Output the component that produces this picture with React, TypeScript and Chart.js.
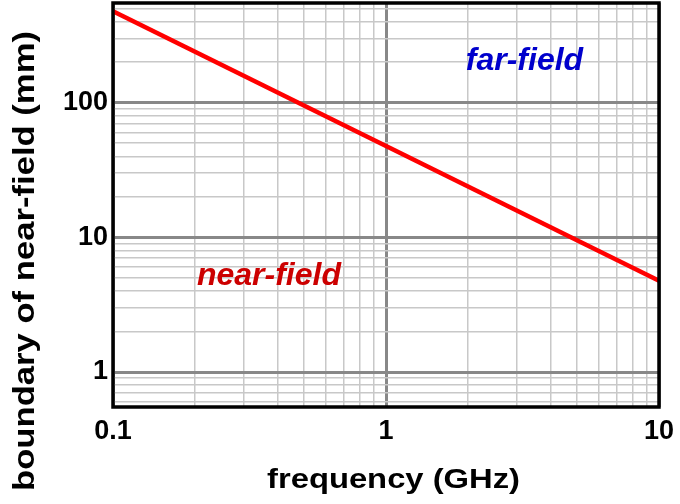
import React, { useEffect, useRef } from 'react';
import { Chart, registerables } from 'chart.js';

Chart.register(...registerables);

// ---- data ----
const frequencyGHz = [0.1, 1, 10];
const boundaryMm = [477, 47.7, 4.77];

const xMajorTicks = [0.1, 1, 10];
const yMajorTicks = [1, 10, 100];
const xGridValues = [
  0.1, 0.2, 0.3, 0.4, 0.5, 0.6, 0.7, 0.8, 0.9,
  1, 2, 3, 4, 5, 6, 7, 8, 9, 10,
];
const yGridValues = [
  0.6, 0.7, 0.8, 0.9,
  1, 2, 3, 4, 5, 6, 7, 8, 9,
  10, 20, 30, 40, 50, 60, 70, 80, 90,
  100, 200, 300, 400, 500,
];

const regionLabels = ['far-field', 'near-field'];
const regionLabelX = [1.96, 0.203];
const regionLabelY = [176, 4.45];
const regionLabelColors = ['#0000cc', '#cc0000'];

const xAxisTitle = 'frequency (GHz)';
const yAxisTitle = 'boundary of near-field (mm)';

const FONT = '"Liberation Sans", Arial, Helvetica, sans-serif';

function drawStretched(
  ctx: CanvasRenderingContext2D,
  text: string,
  x: number,
  y: number,
  font: string,
  targetWidth: number,
  rotation: number
) {
  ctx.save();
  ctx.font = font;
  ctx.fillStyle = '#000000';
  ctx.textAlign = 'center';
  ctx.textBaseline = 'alphabetic';
  ctx.translate(x, y);
  ctx.rotate(rotation);
  const w = ctx.measureText(text).width;
  ctx.scale(targetWidth / w, 1);
  ctx.fillText(text, 0, 0);
  ctx.restore();
}

const decorPlugin = {
  id: 'decor',
  afterDatasetsDraw(chart: any) {
    const { ctx, chartArea, scales } = chart;
    // frame
    ctx.save();
    ctx.strokeStyle = '#000000';
    ctx.lineWidth = 3.5;
    ctx.strokeRect(
      chartArea.left,
      chartArea.top,
      chartArea.right - chartArea.left,
      chartArea.bottom - chartArea.top
    );
    ctx.restore();
    // region labels
    ctx.save();
    ctx.font = `italic bold 32px ${FONT}`;
    ctx.textAlign = 'left';
    ctx.textBaseline = 'alphabetic';
    regionLabels.forEach((t, i) => {
      ctx.fillStyle = regionLabelColors[i];
      ctx.fillText(
        t,
        scales.x.getPixelForValue(regionLabelX[i]),
        scales.y.getPixelForValue(regionLabelY[i])
      );
    });
    ctx.restore();
  },
  afterDraw(chart: any) {
    const { ctx } = chart;
    drawStretched(ctx, xAxisTitle, 393.5, 488, `bold 28px ${FONT}`, 253, 0);
    drawStretched(ctx, yAxisTitle, 34, 261, `bold 30px ${FONT}`, 460, -Math.PI / 2);
  },
};

export default function App() {
  const canvasRef = useRef<HTMLCanvasElement | null>(null);

  useEffect(() => {
    const canvas = canvasRef.current;
    if (!canvas) return;
    const gridColor = (majors: number[]) => (c: any) =>
      c.tick && majors.includes(c.tick.value) ? '#888888' : '#c8c8c8';
    const gridWidth = (majors: number[]) => (c: any) =>
      c.tick && majors.includes(c.tick.value) ? 3 : 1.5;

    const chart = new Chart(canvas, {
      type: 'line',
      data: {
        datasets: [
          {
            data: frequencyGHz.map((f, i) => ({ x: f, y: boundaryMm[i] })),
            borderColor: '#ff0000',
            borderWidth: 4.5,
            pointRadius: 0,
            tension: 0,
            fill: false,
          },
        ],
      },
      options: {
        animation: false,
        responsive: false,
        maintainAspectRatio: false,
        devicePixelRatio: 1,
        layout: { padding: { top: 3, right: 21, left: 0, bottom: 0 } },
        plugins: {
          legend: { display: false },
          tooltip: { enabled: false },
        },
        scales: {
          x: {
            type: 'logarithmic',
            min: 0.1,
            max: 10,
            afterBuildTicks: (s: any) => {
              s.ticks = xGridValues.map((v) => ({ value: v }));
            },
            afterFit: (s: any) => {
              s.height = 97;
              s.paddingLeft = 0;
              s.paddingRight = 0;
            },
            ticks: {
              autoSkip: false,
              maxRotation: 0,
              minRotation: 0,
              padding: 8,
              color: '#000000',
              font: { family: FONT, size: 27, weight: 'bold' },
              callback: (v: any) => (xMajorTicks.includes(Number(v)) ? String(v) : ''),
            },
            grid: {
              color: gridColor(xMajorTicks),
              lineWidth: gridWidth(xMajorTicks),
              drawTicks: false,
            },
            border: { display: false },
          },
          y: {
            type: 'logarithmic',
            min: 0.55,
            max: 550,
            afterBuildTicks: (s: any) => {
              s.ticks = yGridValues.map((v) => ({ value: v }));
            },
            afterFit: (s: any) => {
              s.width = 113;
              s.paddingTop = 0;
              s.paddingBottom = 0;
            },
            ticks: {
              autoSkip: false,
              padding: 5,
              color: '#000000',
              font: { family: FONT, size: 27, weight: 'bold' },
              callback: (v: any) => (yMajorTicks.includes(Number(v)) ? String(v) : ''),
            },
            grid: {
              color: gridColor(yMajorTicks),
              lineWidth: gridWidth(yMajorTicks),
              drawTicks: false,
            },
            border: { display: false },
          },
        },
      } as any,
      plugins: [decorPlugin],
    });
    return () => chart.destroy();
  }, []);

  return (
    <div style={{ position: 'fixed', left: 0, top: 0, width: 680, height: 504, background: '#ffffff' }}>
      <canvas ref={canvasRef} width={680} height={504} style={{ width: 680, height: 504, display: 'block' }} />
    </div>
  );
}
